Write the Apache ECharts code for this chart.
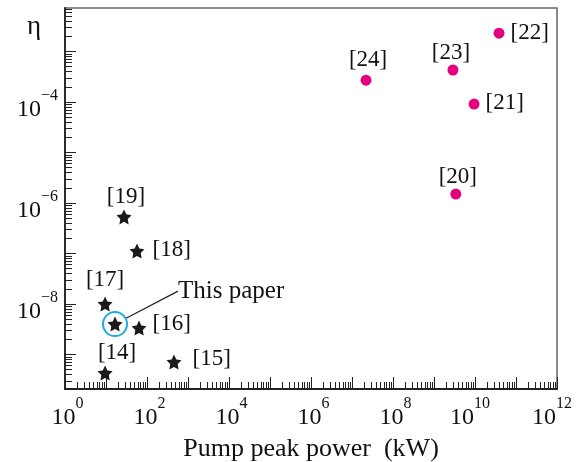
<!DOCTYPE html>
<html><head><meta charset="utf-8">
<script src="https://cdn.jsdelivr.net/npm/echarts@6/dist/echarts.min.js"></script>
<style>html,body{margin:0;padding:0;background:#fff}#c{width:576px;height:462px}</style>
</head><body><div id="c"></div>
<script>
// ---- data ----
const starLabels = ['[19]', '[18]', '[17]', '[16]', '[14]', '[15]'];
const starPower  = [27.5, 57, 9.5, 64, 9.5, 455];          // kW
const starEta    = [5.3e-7, 1.12e-7, 1.0e-8, 3.35e-9, 4.3e-10, 7.1e-10];

const thisPaperLabel = 'This paper';
const thisPaperPower = [16.6];
const thisPaperEta   = [4.0e-9];

const circleLabels = ['[20]', '[21]', '[22]', '[23]', '[24]'];
const circlePower  = [3.4e9, 9.5e9, 3.85e10, 2.9e9, 2.2e7];
const circleEta    = [1.5e-6, 9.1e-5, 2.3e-3, 4.3e-4, 2.7e-4];

const xTickExps  = [0, 2, 4, 6, 8, 10, 12];
const yTickExps  = [-8, -6, -4];
const xDecades   = [0,1,2,3,4,5,6,7,8,9,10,11,12];
const yDecades   = [-10,-9,-8,-7,-6,-5,-4,-3,-2];

const xName = 'Pump peak power  (kW)';
const yName = 'η';

// ---- styling ----
const FONT = 'Liberation Serif';
const TXT = '#111';
const xMin = 1, xMax = 1e12;
const yMin = Math.pow(10, -9.683), yMax = Math.pow(10, -2.139);

const labelCfg = {
  '[19]': {position: 'top', distance: 1, offset: [2, 0]},
  '[18]': {position: 'right', distance: 8, offset: [0, -1]},
  '[17]': {position: 'top', distance: 5, offset: [0, 0]},
  '[16]': {position: 'right', distance: 6, offset: [0, -4]},
  '[14]': {position: 'top', distance: 1, offset: [12, 0]},
  '[15]': {position: 'right', distance: 11, offset: [0, -3]},
  '[20]': {position: 'top', distance: 0, offset: [2, 0]},
  '[21]': {position: 'right', distance: 6, offset: [0, -1]},
  '[22]': {position: 'right', distance: 6, offset: [0, 0]},
  '[23]': {position: 'top', distance: 0, offset: [-2, 0]},
  '[24]': {position: 'top', distance: 3, offset: [2, 0]}
};

const pw = Math.pow;
const xMajorVals = xDecades.map(e => pw(10, e));
const yMajorVals = yDecades.map(e => pw(10, e)).filter(v => v >= yMin && v <= yMax);
function minorVals(decs, lo, hi) {
  const out = [];
  decs.forEach(e => { for (let m = 2; m <= 9; m++) { const v = m * pw(10, e); if (v >= lo && v <= hi) out.push(v); } });
  return out;
}
const xMinorVals = minorVals(xDecades, xMin, xMax);
const yMinorVals = minorVals(yDecades, yMin, yMax);

function expStr(v) {
  const e = Math.round(Math.log10(v));
  return e < 0 ? '\u2212' + (-e) : String(e);
}
function xFmt(v) {
  const s = expStr(v);
  return s.length < 2 ? '{sp1|}{b|10}{s|' + s + '}' : '{b|10}{s|' + s + '}{sp2|}';
}
function yFmt(v) { return '{b|10}{s|' + expStr(v) + '}'; }
const rich = {
  b: {fontFamily: FONT, fontSize: 24, color: TXT, verticalAlign: 'bottom', lineHeight: 34},
  s: {fontFamily: FONT, fontSize: 16, color: TXT, verticalAlign: 'top', lineHeight: 14},
  sp1: {width: 5, lineHeight: 14},
  sp2: {width: 10, lineHeight: 14}
};

const starPath = 'path://M50,0 L64.69,29.77 L97.55,34.55 L73.78,57.73 L79.39,90.45 L50,75 L20.61,90.45 L26.22,57.73 L2.45,34.55 L35.31,29.77 Z';

function pts(labels, xs, ys) {
  return labels.map((n, i) => {
    const c = labelCfg[n];
    return {name: n, value: [xs[i], ys[i]],
      label: {show: true, position: c.position, distance: c.distance, offset: c.offset}};
  });
}

const axisLine = {show: true, lineStyle: {color: '#222', width: 1.8}};
const option = {
  animation: false,
  backgroundColor: '#fff',
  title: {text: yName, left: 22, top: 8, textStyle: {fontFamily: FONT, fontSize: 27, fontWeight: 'normal', color: TXT}},
  grid: {left: 65, top: 8, width: 492, height: 381, outerBoundsMode: 'none', containLabel: false,
         show: true, borderColor: '#666', borderWidth: 1.5, backgroundColor: 'transparent'},
  xAxis: [
    {type: 'log', logBase: 10, min: xMin, max: xMax, position: 'bottom',
     axisLine: axisLine,
     axisTick: {show: true, inside: true, length: 12, lineStyle: {color: '#222', width: 1}, customValues: xMajorVals},
     axisLabel: {show: true, margin: 7, customValues: xTickExps.map(e => pw(10, e)), formatter: xFmt, rich: rich},
     splitLine: {show: false}, minorTick: {show: false},
     name: xName, nameLocation: 'middle', nameGap: 47,
     nameTextStyle: {fontFamily: FONT, fontSize: 26, color: TXT}},
    {type: 'log', logBase: 10, min: xMin, max: xMax, position: 'bottom',
     axisLine: {show: false},
     axisTick: {show: true, inside: true, length: 7, lineStyle: {color: '#222', width: 1}, customValues: xMinorVals},
     axisLabel: {show: false}, splitLine: {show: false}}
  ],
  yAxis: [
    {type: 'log', logBase: 10, min: yMin, max: yMax, position: 'left',
     axisLine: axisLine,
     axisTick: {show: true, inside: true, length: 11, lineStyle: {color: '#222', width: 1}, customValues: yMajorVals},
     axisLabel: {show: true, margin: 7, padding: [5, 0, 0, 0], customValues: yTickExps.map(e => pw(10, e)), formatter: yFmt, rich: rich},
     splitLine: {show: false}, minorTick: {show: false}},
    {type: 'log', logBase: 10, min: yMin, max: yMax, position: 'left',
     axisLine: {show: false},
     axisTick: {show: true, inside: true, length: 7, lineStyle: {color: '#222', width: 1}, customValues: yMinorVals},
     axisLabel: {show: false}, splitLine: {show: false}}
  ],
  series: [
    {type: 'scatter', name: 'stars', xAxisIndex: 0, yAxisIndex: 0,
     symbol: starPath, symbolSize: 15,
     itemStyle: {color: '#1a1a1a', opacity: 1},
     label: {formatter: '{b}', fontFamily: FONT, fontSize: 23, color: TXT},
     emphasis: {disabled: true},
     data: pts(starLabels, starPower, starEta)},
    {type: 'scatter', name: 'others', xAxisIndex: 0, yAxisIndex: 0,
     symbol: 'circle', symbolSize: 11,
     itemStyle: {color: '#e4007f', opacity: 1},
     label: {formatter: '{b}', fontFamily: FONT, fontSize: 23, color: TXT},
     emphasis: {disabled: true},
     data: pts(circleLabels, circlePower, circleEta)},
    {type: 'scatter', name: 'this paper ring', xAxisIndex: 0, yAxisIndex: 0,
     symbol: 'circle', symbolSize: 24, z: 1,
     itemStyle: {color: 'rgba(0,0,0,0)', borderColor: '#1fa9e1', borderWidth: 2, opacity: 1},
     emphasis: {disabled: true},
     label: {show: true, position: 'right', formatter: thisPaperLabel, fontFamily: FONT, fontSize: 25, color: TXT},
     labelLayout: {dx: 45, dy: -33},
     labelLine: {show: true, length2: 0, smooth: false, lineStyle: {color: '#222', width: 1.2}},
     data: thisPaperPower.map((x, i) => [x, thisPaperEta[i]])},
    {type: 'scatter', name: 'this paper', xAxisIndex: 0, yAxisIndex: 0,
     symbol: starPath, symbolSize: 15, z: 3,
     itemStyle: {color: '#1a1a1a', opacity: 1},
     emphasis: {disabled: true},
     data: thisPaperPower.map((x, i) => [x, thisPaperEta[i]])}
  ]
};
const chart = echarts.init(document.getElementById('c'), null, {renderer: 'canvas'});
chart.setOption(option);
</script></body></html>
